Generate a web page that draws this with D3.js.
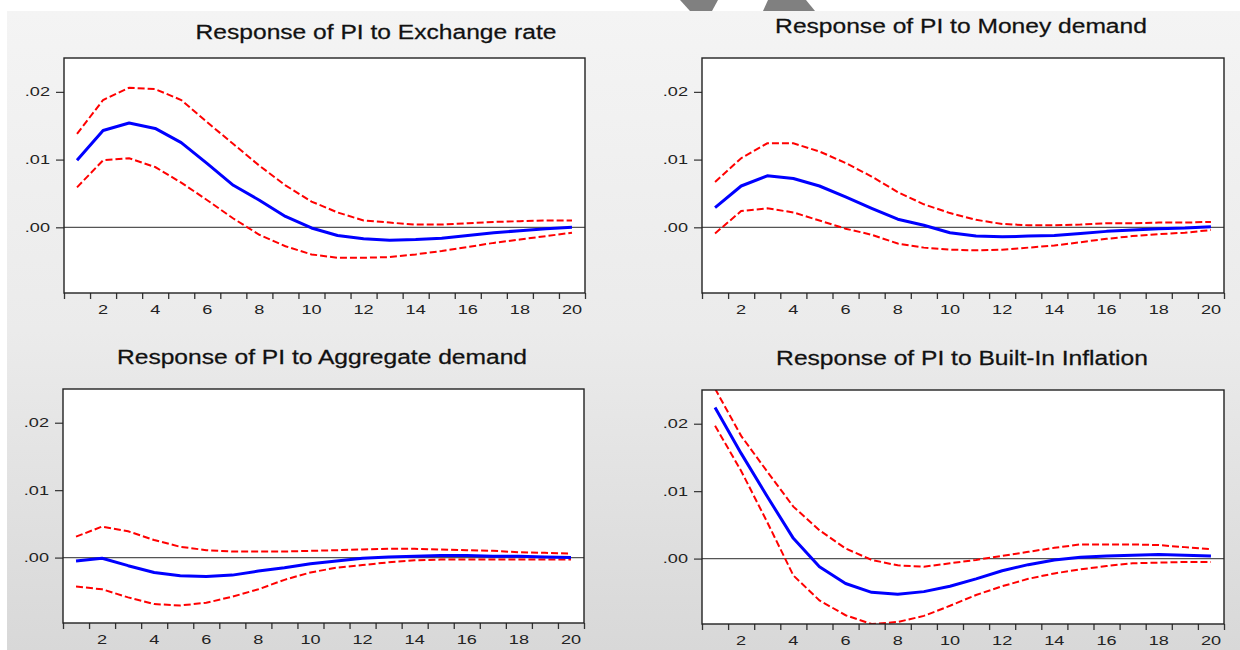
<!DOCTYPE html>
<html>
<head>
<meta charset="utf-8">
<script src="https://cdn.jsdelivr.net/npm/d3@7"></script>
<style>
  html, body { margin: 0; padding: 0; background: #fff; }
  svg { display: block; }
</style>
</head>
<body>
<div id="area"></div>
<script>
// impulse responses of PI (periods 1..20)
const periods = [1, 2, 3, 4, 5, 6, 7, 8, 9, 10, 11, 12, 13, 14, 15, 16, 17, 18, 19, 20];
const xTickLabels = [2, 4, 6, 8, 10, 12, 14, 16, 18, 20];
const yTicks = [0, 0.01, 0.02];
const yTickLabels = [".00", ".01", ".02"];

const titles = [
  "Response of PI to Exchange rate",
  "Response of PI to Money demand",
  "Response of PI to Aggregate demand",
  "Response of PI to Built-In Inflation",
];

const exchResp = [0.0099, 0.0143, 0.0154, 0.0146, 0.0125, 0.0094, 0.0062, 0.0040, 0.0016, -0.0001,
  -0.0012, -0.0017, -0.0019, -0.0018, -0.0016, -0.0012, -0.0008, -0.0005, -0.0002, 0.0000];
const exchUpper = [0.0138, 0.0188, 0.0206, 0.0204, 0.0188, 0.0155, 0.0123, 0.0091, 0.0062, 0.0038,
  0.0022, 0.0010, 0.0007, 0.0004, 0.0004, 0.0006, 0.0008, 0.0009, 0.0010, 0.0010];
const exchLower = [0.0059, 0.0099, 0.0102, 0.0089, 0.0066, 0.0040, 0.0013, -0.0011, -0.0028, -0.0040,
  -0.0045, -0.0045, -0.0044, -0.0040, -0.0035, -0.0029, -0.0023, -0.0018, -0.0013, -0.0008];

const moneyResp = [0.0029, 0.0061, 0.0076, 0.0072, 0.0061, 0.0045, 0.0028, 0.0012, 0.0003, -0.0008,
  -0.0013, -0.0014, -0.0013, -0.0012, -0.0009, -0.0006, -0.0004, -0.0002, -0.0001, 0.0001];
const moneyUpper = [0.0067, 0.0102, 0.0124, 0.0124, 0.0112, 0.0095, 0.0075, 0.0052, 0.0034, 0.0021,
  0.0011, 0.0005, 0.0003, 0.0003, 0.0004, 0.0006, 0.0006, 0.0007, 0.0007, 0.0008];
const moneyLower = [-0.0009, 0.0024, 0.0028, 0.0022, 0.0010, -0.0002, -0.0011, -0.0024, -0.0030, -0.0033,
  -0.0034, -0.0033, -0.0030, -0.0027, -0.0022, -0.0017, -0.0013, -0.0010, -0.0008, -0.0004];

const aggResp = [-0.0005, -0.0001, -0.0012, -0.0022, -0.0027, -0.0028, -0.0026, -0.0020, -0.0015, -0.0009,
  -0.0005, -0.0001, 0.0001, 0.0002, 0.0003, 0.0003, 0.0002, 0.0002, 0.0001, 0.0000];
const aggUpper = [0.0031, 0.0046, 0.0039, 0.0026, 0.0016, 0.0011, 0.0009, 0.0009, 0.0009, 0.0010,
  0.0011, 0.0012, 0.0013, 0.0013, 0.0012, 0.0011, 0.0010, 0.0008, 0.0007, 0.0006];
const aggLower = [-0.0043, -0.0047, -0.0059, -0.0069, -0.0071, -0.0067, -0.0058, -0.0047, -0.0033, -0.0022,
  -0.0015, -0.0011, -0.0007, -0.0004, -0.0003, -0.0003, -0.0003, -0.0003, -0.0003, -0.0003];

const inflResp = [0.0224, 0.0156, 0.0092, 0.0030, -0.0012, -0.0037, -0.0050, -0.0053, -0.0049, -0.0041,
  -0.0030, -0.0018, -0.0009, -0.0002, 0.0002, 0.0004, 0.0005, 0.0006, 0.0005, 0.0004];
const inflUpper = [0.0252, 0.0182, 0.0129, 0.0077, 0.0042, 0.0015, -0.0002, -0.0010, -0.0012, -0.0007,
  -0.0002, 0.0004, 0.0010, 0.0016, 0.0021, 0.0021, 0.0021, 0.0020, 0.0017, 0.0014];
const inflLower = [0.0197, 0.0130, 0.0054, -0.0025, -0.0062, -0.0084, -0.0097, -0.0094, -0.0085, -0.0070,
  -0.0054, -0.0041, -0.0030, -0.0022, -0.0016, -0.0011, -0.0007, -0.0006, -0.0005, -0.0005];

const width = 1240;
const height = 650;

// plot boxes and title baselines, in page pixels
const panels = [
  { box: [64, 58, 585, 293], titleX: 376, titleY: 39, resp: exchResp, upper: exchUpper, lower: exchLower },
  { box: [702, 58, 1224, 293], titleX: 961, titleY: 33, resp: moneyResp, upper: moneyUpper, lower: moneyLower },
  { box: [63, 389, 584, 623], titleX: 322, titleY: 364, resp: aggResp, upper: aggUpper, lower: aggLower },
  { box: [702, 390, 1224, 624], titleX: 962, titleY: 365, resp: inflResp, upper: inflUpper, lower: inflLower },
];

const svg = d3
  .select("#area")
  .append("svg")
  .attr("width", width)
  .attr("height", height);

const defs = svg.append("defs");
const grad = defs
  .append("linearGradient")
  .attr("id", "bg")
  .attr("x1", 0).attr("y1", 0)
  .attr("x2", 0).attr("y2", 1);
grad.append("stop").attr("offset", "0%").attr("stop-color", "#f4f4f4");
grad.append("stop").attr("offset", "50%").attr("stop-color", "#ebebeb");
grad.append("stop").attr("offset", "100%").attr("stop-color", "#d8d8d8");

// slide background
svg.append("rect")
  .attr("x", 7).attr("y", 11)
  .attr("width", width - 7).attr("height", height - 11)
  .attr("fill", "url(#bg)");

// bits of the slide graphic cut off at the top
svg.append("polygon")
  .attr("points", "680,0 718,0 712,11 690,11")
  .attr("fill", "#808080");
svg.append("polygon")
  .attr("points", "768,0 806,0 815,11 763,11")
  .attr("fill", "#808080");

panels.forEach((p, i) => {
  const [x0, y0, x1, y1] = p.box;

  const x = d3.scaleLinear().domain([0.5, 20.5]).range([x0, x1]);
  const y = d3.scaleLinear().domain([-0.0097, 0.025]).range([y1, y0]);

  const g = svg.append("g");

  // title
  g.append("text")
    .attr("transform", `translate(${p.titleX},${p.titleY}) scale(1.23,1)`)
    .attr("text-anchor", "middle")
    .attr("font-family", "Liberation Sans, Arial, sans-serif")
    .attr("font-size", 20)
    .attr("fill", "#111")
    .attr("stroke", "#111")
    .attr("stroke-width", 0.25)
    .text(titles[i]);

  // plot area
  g.append("rect")
    .attr("x", x0).attr("y", y0)
    .attr("width", x1 - x0).attr("height", y1 - y0)
    .attr("fill", "#fff");

  defs.append("clipPath")
    .attr("id", `clip${i}`)
    .append("rect")
    .attr("x", x0).attr("y", y0)
    .attr("width", x1 - x0).attr("height", y1 - y0);

  // zero line
  g.append("line")
    .attr("x1", x0).attr("x2", x1)
    .attr("y1", y(0)).attr("y2", y(0))
    .attr("stroke", "#555")
    .attr("stroke-width", 1.2);

  // x axis: ticks between periods, labels on even periods
  const xAxis = g.append("g")
    .attr("transform", `translate(0,${y1})`)
    .call(
      d3.axisBottom(x)
        .tickValues(periods.map((d) => d - 0.5).concat([20.5]))
        .tickSize(6)
        .tickFormat("")
    );
  xAxis.select(".domain").remove();
  xAxis.selectAll("line").attr("stroke", "#333").attr("stroke-width", 1.3);

  g.selectAll(".xlab")
    .data(xTickLabels)
    .join("text")
    .attr("class", "xlab")
    .attr("transform", (d) => `translate(${x(d)},${y1 + 21}) scale(1.45,1)`)
    .attr("text-anchor", "middle")
    .attr("font-family", "Liberation Sans, Arial, sans-serif")
    .attr("font-size", 12.5)
    .attr("fill", "#222")
    .text((d) => d);

  // y axis
  const yAxis = g.append("g")
    .attr("transform", `translate(${x0},0)`)
    .call(d3.axisLeft(y).tickValues(yTicks).tickSize(8).tickFormat(""));
  yAxis.select(".domain").remove();
  yAxis.selectAll("line").attr("stroke", "#333").attr("stroke-width", 1.2);

  g.selectAll(".ylab")
    .data(yTicks)
    .join("text")
    .attr("class", "ylab")
    .attr("transform", (d) => `translate(${x0 - 14},${y(d) + 4.5}) scale(1.45,1)`)
    .attr("text-anchor", "end")
    .attr("font-family", "Liberation Sans, Arial, sans-serif")
    .attr("font-size", 12.5)
    .attr("fill", "#222")
    .text((d, j) => yTickLabels[j]);

  const line = d3.line()
    .x((d, j) => x(periods[j]))
    .y((d) => y(d));

  const lines = g.append("g").attr("clip-path", `url(#clip${i})`);

  [p.upper, p.lower].forEach((band) => {
    lines.append("path")
      .attr("fill", "none")
      .attr("stroke", "#ff0000")
      .attr("stroke-width", 2)
      .attr("stroke-dasharray", "7,3")
      .attr("d", line(band));
  });

  lines.append("path")
    .attr("fill", "none")
    .attr("stroke", "#0000ff")
    .attr("stroke-width", 3)
    .attr("stroke-linejoin", "round")
    .attr("d", line(p.resp));

  // frame
  g.append("rect")
    .attr("x", x0).attr("y", y0)
    .attr("width", x1 - x0).attr("height", y1 - y0)
    .attr("fill", "none")
    .attr("stroke", "#222")
    .attr("stroke-width", 1.4);
});
</script>
</body>
</html>
